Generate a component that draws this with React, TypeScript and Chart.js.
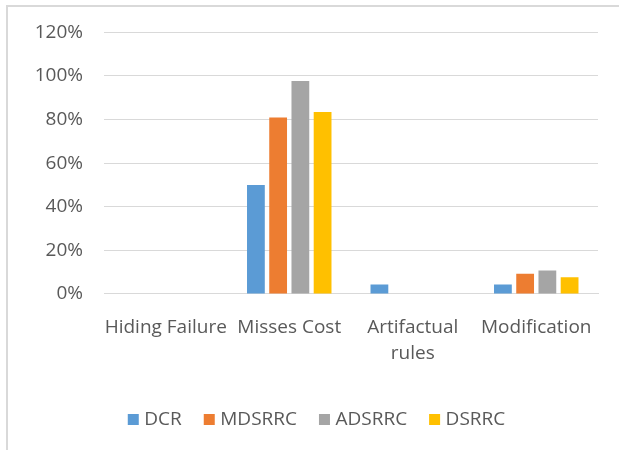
import React, { useEffect, useRef } from "react";
import { Chart, registerables } from "chart.js";

Chart.register(...registerables);

const categories: (string | string[])[] = ["Hiding Failure", "Misses Cost", ["Artifactual", "rules"], "Modification"];
const dcr = [0, 50, 4.3, 4.3];
const mdsrrc = [0, 81, 0, 9.3];
const adsrrc = [0, 97.7, 0, 10.8];
const dsrrc = [0, 83.5, 0, 7.7];
const seriesNames = ["DCR", "MDSRRC", "ADSRRC", "DSRRC"];
const seriesColors = ["#5b9bd5", "#ed7d31", "#a5a5a5", "#ffc000"];

const FONT = "'Open Sans'";
const TEXT = "#595959";
const GRID = "#d9d9d9";
const BOX = 11;

const framePlugin = {
  id: "frame",
  beforeDraw(chart: any) {
    const ctx = chart.ctx;
    ctx.save();
    ctx.fillStyle = "#ffffff";
    ctx.fillRect(0, 0, chart.width, chart.height);
    ctx.strokeStyle = GRID;
    ctx.lineWidth = 2;
    ctx.beginPath();
    ctx.moveTo(7, chart.height);
    ctx.lineTo(7, 6);
    ctx.lineTo(chart.width, 6);
    ctx.stroke();
    ctx.restore();
  },
  afterDraw(chart: any) {
    const legend = chart.legend;
    if (!legend || !legend.legendHitBoxes) return;
    const ctx = chart.ctx;
    ctx.save();
    legend.legendHitBoxes.forEach((hb: any, i: number) => {
      ctx.fillStyle = seriesColors[i];
      const cy = hb.top + hb.height / 2;
      ctx.fillRect(hb.left, Math.round(cy - BOX / 2), BOX, BOX);
    });
    ctx.restore();
  },
};

export default function App() {
  const ref = useRef<HTMLCanvasElement | null>(null);
  useEffect(() => {
    document.body.style.margin = "0";
    const data = [dcr, mdsrrc, adsrrc, dsrrc];
    const chart = new Chart(ref.current!, {
      type: "bar",
      data: {
        labels: categories,
        datasets: seriesNames.map((name, i) => ({
          label: name,
          data: data[i],
          backgroundColor: seriesColors[i],
          borderWidth: 0,
          categoryPercentage: 0.72,
          barPercentage: 0.8,
        })),
      },
      options: {
        responsive: false,
        animation: false,
        maintainAspectRatio: false,
        layout: { autoPadding: false, padding: { left: 35, right: 21, top: 32, bottom: 11 } },
        plugins: {
          legend: {
            position: "bottom",
            labels: {
              boxWidth: 7,
              boxHeight: BOX,
              padding: 22,
              color: TEXT,
              font: { family: FONT, size: 19 },
              generateLabels: (chart: any) =>
                chart.data.datasets.map((ds: any, i: number) => ({
                  text: ds.label,
                  fillStyle: "rgba(0,0,0,0)",
                  strokeStyle: "rgba(0,0,0,0)",
                  lineWidth: 0,
                  hidden: false,
                  datasetIndex: i,
                  fontColor: TEXT,
                })),
            },
          },
          tooltip: { enabled: false },
        },
        scales: {
          x: {
            grid: { display: false, drawTicks: false },
            border: { display: true, color: GRID, width: 1 },
            afterFit: (scale: any) => {
              scale.paddingLeft = 0;
              scale.paddingRight = 0;
            },
            ticks: {
              color: TEXT,
              padding: 21,
              maxRotation: 0,
              autoSkip: false,
              font: { family: FONT, size: 19, lineHeight: 1.37 },
            },
          },
          y: {
            min: 0,
            max: 120,
            grid: { color: GRID, drawTicks: false },
            border: { display: false },
            afterFit: (scale: any) => {
              scale.width = 69;
            },
            ticks: {
              stepSize: 20,
              padding: 21,
              color: TEXT,
              font: { family: FONT, size: 19 },
              callback: (v: any) => v + "%",
            },
          },
        },
      },
      plugins: [framePlugin],
    });
    return () => chart.destroy();
  }, []);
  return (
    <div style={{ width: 619, height: 450 }}>
      <canvas ref={ref} width={619} height={450} style={{ display: "block" }} />
    </div>
  );
}
